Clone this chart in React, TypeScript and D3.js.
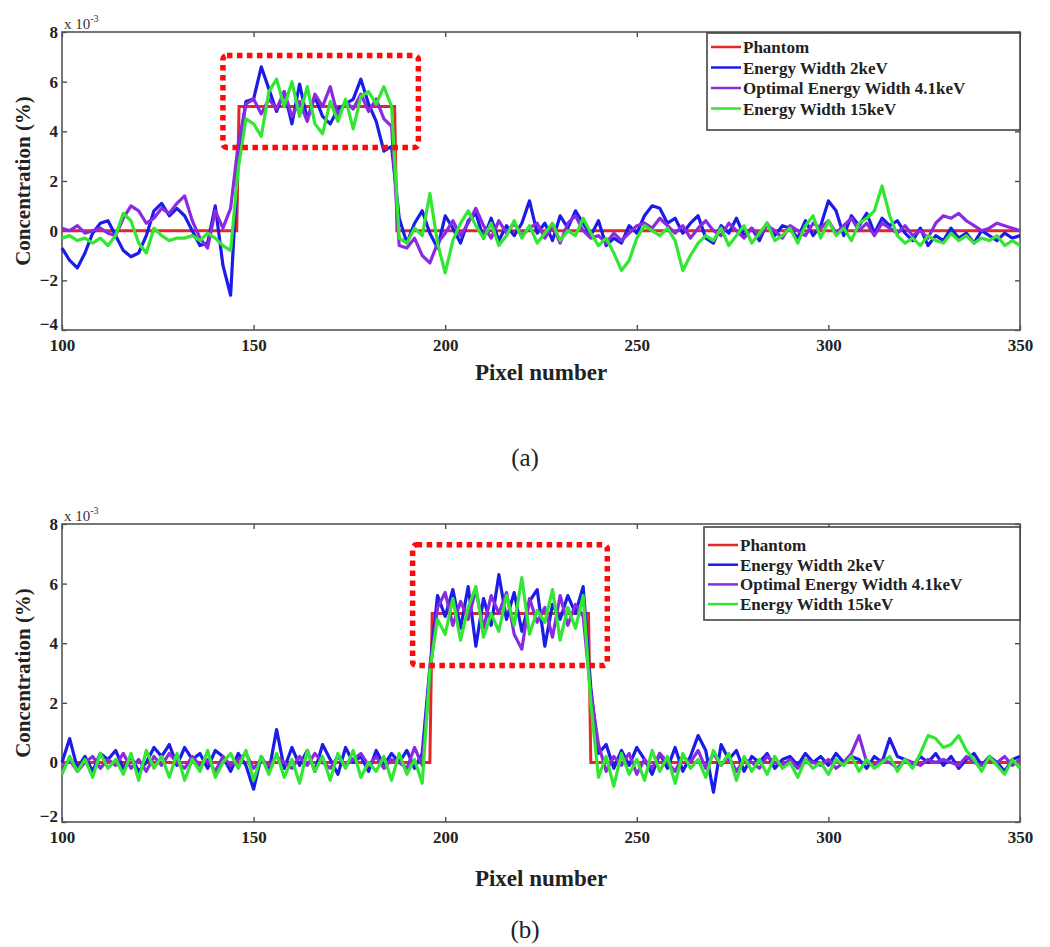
import React, { useRef, useEffect } from 'react';
import * as d3 from 'd3';

// sample positions shared by all noisy curves (every 2nd pixel)
const pixels = d3.range(100, 351, 2);

const seriesNames = ['Phantom', 'Energy Width 2keV', 'Optimal Energy Width 4.1keV', 'Energy Width 15keV'];
const seriesColors = ['#e3262b', '#1c1ce8', '#8a2be2', '#33e633'];

const xTicks = [100, 150, 200, 250, 300, 350];
const yTicksA = [-4, -2, 0, 2, 4, 6, 8];
const yTicksB = [-2, 0, 2, 4, 6, 8];

// values are in units of 1e-3 %
const phantomAX = [100, 145.6, 146.2, 186.8, 187.4, 350];
const phantomAY = [0, 0, 5, 5, 0, 0];
const phantomBX = [100, 196, 196.6, 237.4, 238, 350];
const phantomBY = [0, 0, 5, 5, 0, 0];

const blueA = [
  -0.7, -1.2, -1.5, -0.9, -0.1, 0.3, 0.4, -0.2, -0.8, -1.05,
  -0.9, -0.2, 0.8, 1.1, 0.6, 0.9, 0.6, 0.0, -0.6, -0.5,
  1.0, -1.4, -2.6, 3.0, 5.2, 5.3, 6.6, 5.7, 4.8, 5.6,
  4.3, 5.9, 4.5, 5.4, 4.6, 4.3, 4.9, 5.1, 5.3, 6.1,
  5.1, 4.4, 3.2, 3.4, 0.5, -0.5, 0.3, 0.8, -0.1, -0.7,
  0.6, 0.1, -0.5, 0.4, 0.7, -0.3, 0.5, -0.4, 0.2, -0.2,
  0.3, 1.2, -0.1, 0.3, -0.4, 0.6, 0.1, 0.8, 0.3, -0.2,
  0.4, -0.6, -0.3, -0.5, 0.2, -0.1, 0.6, 1.0, 0.9, 0.3,
  0.5, -0.1, 0.3, 0.6, -0.3, -0.5, 0.2, -0.1, 0.5, -0.2,
  0.1, -0.4, 0.3, -0.2, 0.2, 0.1, -0.3, 0.4, -0.2, 0.2,
  1.2, 0.8, -0.2, 0.6, 0.2, 0.7, -0.1, 0.5, 0.2, 0.4,
  -0.1, -0.4, 0.1, -0.6, -0.2, -0.4, 0.1, -0.3, -0.1, -0.5,
  0.0, -0.2, -0.4, -0.1, -0.3, -0.2,
];
const purpleA = [
  0.1, 0.0, 0.2, -0.1, 0.0, 0.1, -0.1, -0.2, 0.5, 1.0,
  0.8, 0.3, 0.5, 0.9, 0.7, 1.1, 1.4, 0.4, -0.3, -0.7,
  0.8, 0.1, 0.9, 3.5, 5.1, 5.3, 4.7, 5.3, 4.9, 5.6,
  4.6, 5.2, 4.4, 5.5, 5.0, 5.8, 4.6, 5.2, 4.9, 5.5,
  4.8, 5.3, 4.5, 4.2, -0.6, -0.7, -0.3, -1.0, -1.3, -0.5,
  -0.1, 0.4, -0.2, 0.3, 0.9, 0.2, -0.3, 0.4, -0.1, 0.3,
  -0.2, 0.1, 0.3, -0.3, 0.2, -0.5, 0.3, 0.6, 0.0, -0.3,
  -0.2, -0.5, -0.1, -0.4, -0.1, 0.2, 0.3, 0.1, 0.5, 0.2,
  -0.1, 0.2, -0.3, 0.1, 0.4, 0.0, -0.2, 0.3, 0.0, -0.3,
  0.1, -0.2, 0.2, 0.0, -0.3, 0.2, 0.0, -0.2, 0.3, 0.1,
  0.4, -0.1, 0.2, 0.5, 0.0, 0.3, -0.2, 0.3, 0.1, -0.1,
  0.2, -0.2, 0.0, -0.3, 0.3, 0.6, 0.5, 0.7, 0.4, 0.2,
  0.0, 0.1, 0.3, 0.2, 0.1, 0.0,
];
const greenA = [
  -0.3, -0.2, -0.4, -0.3, -0.5, -0.3, -0.6, -0.2, 0.7, 0.4,
  -0.5, -0.9, 0.1, -0.2, -0.4, -0.3, -0.3, -0.2, -0.4, -0.1,
  -0.3, -0.6, -0.8, 2.5, 4.5, 4.3, 3.8, 5.6, 6.1, 5.0,
  6.0, 4.6, 5.8, 4.3, 3.9, 5.2, 4.4, 5.3, 4.1, 5.4,
  5.6, 5.1, 5.8, 5.0, -0.3, -0.5, 0.1, -0.2, 1.5, -0.5,
  -1.7, -0.4, 0.3, 0.8, 0.2, -0.3, 0.3, -0.6, -0.2, 0.4,
  -0.3, 0.2, -0.5, -0.1, 0.3, -0.4, 0.0, -0.2, 0.5, -0.1,
  -0.6, -0.3, -0.9, -1.6, -1.2, -0.3, 0.2, 0.0, -0.2, 0.1,
  -0.4, -1.6, -1.0, -0.5, -0.2, -0.4, 0.1, -0.6, -0.2, 0.2,
  -0.5, -0.1, 0.3, -0.4, -0.2, 0.1, -0.5, 0.2, 0.6, -0.3,
  0.4, -0.2, 0.1, -0.4, 0.3, 0.5, 0.8, 1.8, 0.6, -0.2,
  -0.5, -0.3, -0.6, -0.2, -0.4, -0.5, -0.1, -0.4, -0.2, -0.5,
  -0.3, -0.4, -0.2, -0.6, -0.4, -0.6,
];

const blueB = [
  0.0, 0.8, -0.2, 0.2, -0.3, 0.3, 0.1, 0.4, -0.2, 0.2,
  -0.3, 0.0, 0.5, 0.2, 0.6, -0.1, 0.5, 0.1, 0.3, -0.2,
  0.4, 0.2, -0.3, 0.3, -0.1, -0.9, 0.2, -0.3, 1.1, -0.2,
  0.5, -0.1, 0.4, -0.3, 0.6, 0.1, -0.4, 0.5, 0.0, 0.2,
  -0.3, 0.4, -0.1, 0.3, 0.0, 0.4, -0.2, 0.3, 3.2, 5.6,
  4.9, 5.8, 4.5, 5.9, 3.9, 5.5, 4.6, 6.3, 4.8, 5.7,
  4.4, 5.4, 5.8, 3.9, 5.3, 4.8, 5.6, 5.0, 5.9, 2.5,
  0.3, 0.6, -0.2, 0.4, -0.1, 0.5, 0.1, -0.4, 0.3, -0.2,
  0.5, -0.3, 0.2, 0.9, 0.4, -1.0, 0.6, 0.1, 0.4, -0.3,
  0.2, 0.0, 0.3, -0.2, 0.1, 0.2, -0.1, 0.3, 0.0, 0.2,
  -0.1, 0.3, 0.0, 0.2, 0.1, -0.2, 0.2, 0.0, 0.8, 0.2,
  0.1, -0.1, 0.2, 0.0, 0.3, -0.1, 0.2, -0.2, 0.1, 0.3,
  -0.1, 0.2, 0.0, -0.3, 0.1, 0.2,
];
const purpleB = [
  -0.2, 0.1, -0.3, 0.0, 0.2, -0.2, 0.1, -0.1, 0.3, -0.2,
  0.1, -0.3, 0.2, -0.1, 0.3, 0.0, -0.2, 0.2, -0.1, 0.1,
  -0.3, 0.2, -0.1, 0.1, 0.3, -0.2, 0.1, -0.1, 0.2, 0.0,
  -0.2, 0.2, -0.1, 0.3, 0.0, -0.2, 0.2, -0.1, 0.1, 0.3,
  -0.1, 0.2, -0.2, 0.1, 0.0, -0.2, 0.5, -0.1, 3.0, 5.2,
  5.7, 4.6, 5.4, 4.8, 5.8, 4.5, 5.6, 5.0, 5.7, 4.3,
  3.8, 5.5, 4.7, 5.2, 4.2, 5.6, 4.6, 5.3, 4.9, 2.3,
  0.6, -0.3, 0.2, -0.1, 0.3, -0.4, 0.1, -0.2, 0.3, 0.0,
  -0.3, 0.2, 0.0, 0.4, -0.2, 0.3, -0.1, 0.2, -0.3, 0.1,
  0.0, -0.2, 0.2, 0.0, -0.1, 0.1, -0.2, 0.1, 0.0, -0.1,
  0.1, -0.2, 0.0, 0.3, 0.9, 0.0, -0.1, 0.1, 0.0, -0.2,
  0.1, 0.0, -0.1, 0.1, 0.0, 0.1, 0.0, -0.1, 0.2, 0.0,
  -0.1, 0.1, 0.0, 0.2, -0.1, 0.1,
];
const greenB = [
  -0.4, 0.2, -0.3, 0.1, -0.5, 0.3, -0.2, 0.1, -0.4, 0.3,
  -0.6, 0.4, -0.2, 0.2, -0.5, 0.3, -0.6, 0.1, -0.3, 0.4,
  -0.5, 0.0, 0.3, -0.2, 0.4, -0.6, 0.2, -0.4, 0.3, -0.5,
  0.1, -0.7, 0.4, -0.3, 0.2, -0.6, 0.3, -0.2, 0.4, -0.5,
  0.0, -0.3, 0.2, -0.6, 0.3, -0.4, 0.1, -0.7, 3.1, 4.8,
  4.3, 5.5, 4.1, 5.2, 5.9, 4.2, 5.0, 4.4, 5.6, 4.6,
  6.2, 4.3, 5.1, 4.7, 5.8, 4.1, 5.2, 4.5, 5.6, 2.0,
  -0.5, 0.2, -0.8, 0.3, -0.4, 0.1, -0.6, 0.4, -0.3, 0.2,
  -0.7, 0.3, -0.2, 0.1, -0.5, 0.4, -0.1, 0.3, -0.6, 0.2,
  -0.3, 0.1, -0.4, 0.2, -0.2, 0.0, -0.5, 0.1, -0.2, 0.0,
  -0.4, 0.1, -0.1, 0.2, -0.3, 0.1, -0.2, 0.0, 0.2, -0.3,
  0.1, -0.2, 0.3, 0.9, 0.8, 0.5, 0.6, 0.9, 0.4, 0.1,
  -0.3, 0.2, -0.1, -0.4, 0.1, -0.2,
];

// dotted highlight boxes: [x0, x1, y0, y1] in data units
const highlightA = [142, 193, 3.35, 7.05];
const highlightB = [191.5, 242.3, 3.25, 7.3];

const serif = '"Liberation Serif", "Times New Roman", serif';

const drawPanel = (svg, p) => {
  const x = d3.scaleLinear().domain([100, 350]).range([62, 1020]);
  const y = d3.scaleLinear().domain(p.yDomain).range([p.bottom, p.top]);
  const g = svg.append('g');

  // inward ticks on all four sides, MATLAB style
  const tickStyle = (sel) => {
    sel.select('.domain').remove();
    sel.selectAll('line').attr('stroke', '#444').attr('stroke-width', 1.3);
    sel.selectAll('text')
      .attr('font-family', serif)
      .attr('font-weight', 'bold')
      .attr('font-size', 17)
      .attr('fill', '#222');
  };
  g.append('g').attr('transform', `translate(0,${p.bottom})`)
    .call(d3.axisBottom(x).tickValues(xTicks).tickSize(-5).tickPadding(9).tickFormat(d3.format('d')))
    .call(tickStyle);
  g.append('g').attr('transform', `translate(0,${p.top})`)
    .call(d3.axisTop(x).tickValues(xTicks).tickSize(-5).tickFormat(() => ''))
    .call(tickStyle);
  const yAxis = g.append('g').attr('transform', 'translate(62,0)')
    .call(d3.axisLeft(y).tickValues(p.yTicks).tickSize(-5).tickPadding(4).tickFormat(d3.format('d')))
    .call(tickStyle);
  // lowest label sits just above the first x label, as in the original
  yAxis.selectAll('text').filter((d) => d === p.yDomain[0]).attr('dy', '-0.05em');
  g.append('g').attr('transform', 'translate(1020,0)')
    .call(d3.axisRight(y).tickValues(p.yTicks).tickSize(-5).tickFormat(() => ''))
    .call(tickStyle);

  g.append('rect')
    .attr('x', 62).attr('y', p.top)
    .attr('width', 958).attr('height', p.bottom - p.top)
    .attr('fill', 'none').attr('stroke', '#555').attr('stroke-width', 1.6);

  const line = d3.line().x((d) => x(d[0])).y((d) => y(d[1]));
  const plot = g.append('g');
  plot.append('path')
    .datum(p.phantomX.map((v, i) => [v, p.phantomY[i]]))
    .attr('d', line).attr('fill', 'none')
    .attr('stroke', seriesColors[0]).attr('stroke-width', 3);
  p.series.forEach((vals, k) => {
    plot.append('path')
      .datum(vals.map((v, i) => [pixels[i], v]))
      .attr('d', line).attr('fill', 'none')
      .attr('stroke', seriesColors[k + 1]).attr('stroke-width', 3.2)
      .attr('stroke-linejoin', 'round');
  });

  // x 10^-3 exponent label
  const ex = g.append('text').attr('x', 64).attr('y', p.top - 3)
    .attr('font-family', serif).attr('font-size', 15).attr('fill', '#333');
  ex.append('tspan').text('x 10');
  ex.append('tspan').attr('dy', -7).attr('font-size', 10).text('-3');

  // axis titles
  g.append('text')
    .attr('transform', `translate(30,${(p.top + p.bottom) / 2}) rotate(-90)`)
    .attr('text-anchor', 'middle')
    .attr('font-family', serif).attr('font-weight', 'bold').attr('font-size', 21)
    .attr('fill', '#222')
    .text('Concentration (%)');
  g.append('text')
    .attr('x', 541).attr('y', p.bottom + p.xLabelGap)
    .attr('text-anchor', 'middle')
    .attr('font-family', serif).attr('font-weight', 'bold').attr('font-size', 23)
    .attr('fill', '#222')
    .text('Pixel number');

  // red dotted highlight
  const [hx0, hx1, hy0, hy1] = p.highlight;
  g.append('rect')
    .attr('x', x(hx0)).attr('y', y(hy1))
    .attr('width', x(hx1) - x(hx0)).attr('height', y(hy0) - y(hy1))
    .attr('rx', 4)
    .attr('fill', 'none').attr('stroke', '#ff0a0a')
    .attr('stroke-width', 5.5).attr('stroke-dasharray', '5.5 4.5');

  // legend
  const lg = g.append('g').attr('transform', `translate(${p.legend[0]},${p.legend[1]})`);
  lg.append('rect')
    .attr('width', 1020 - p.legend[0]).attr('height', p.legend[2])
    .attr('fill', '#fff').attr('stroke', '#444').attr('stroke-width', 1.6);
  seriesNames.forEach((name, i) => {
    const cy = p.legend[3] + i * p.legend[4];
    lg.append('line').attr('x1', 4).attr('x2', 34).attr('y1', cy).attr('y2', cy)
      .attr('stroke', seriesColors[i]).attr('stroke-width', 2.5);
    lg.append('text').attr('x', 36).attr('y', cy + 6)
      .attr('font-family', serif).attr('font-weight', 'bold').attr('font-size', 17)
      .attr('fill', '#222')
      .text(name);
  });

  svg.append('text')
    .attr('x', 525).attr('y', p.caption)
    .attr('text-anchor', 'middle')
    .attr('font-family', serif).attr('font-size', 25).attr('fill', '#222')
    .text(p.label);
};

const App = () => {
  const ref = useRef(null);

  useEffect(() => {
    const svg = d3.select(ref.current);
    svg.selectAll('*').remove();
    svg.append('rect').attr('width', 1050).attr('height', 947).attr('fill', '#fff');

    drawPanel(svg, {
      top: 32, bottom: 330, yDomain: [-4, 8], yTicks: yTicksA,
      phantomX: phantomAX, phantomY: phantomAY,
      series: [blueA, purpleA, greenA],
      highlight: highlightA,
      legend: [707, 33, 97, 14, 20.5],
      xLabelGap: 50, caption: 466, label: '(a)',
    });
    drawPanel(svg, {
      top: 524, bottom: 822, yDomain: [-2, 8], yTicks: yTicksB,
      phantomX: phantomBX, phantomY: phantomBY,
      series: [blueB, purpleB, greenB],
      highlight: highlightB,
      legend: [704, 527, 93, 18, 19.7],
      xLabelGap: 64, caption: 938, label: '(b)',
    });
  }, []);

  return (
    <svg ref={ref} width={1050} height={947}
      style={{ position: 'absolute', left: 0, top: 0, display: 'block' }} />
  );
};

export default App;
